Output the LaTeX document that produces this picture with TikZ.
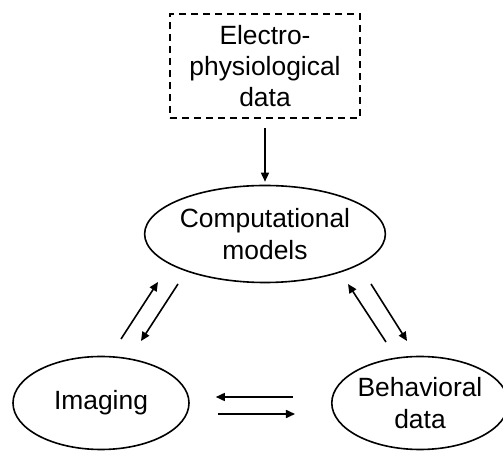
\documentclass[tikz,border=0pt]{standalone}
\usepackage{fontspec}
\setmainfont{Liberation Sans}
\usepackage{tikz}
\usetikzlibrary{shapes, positioning, calc, arrows.meta}

\begin{document}
\begin{tikzpicture}[x=0.5pt, y=-0.5pt,
    txt/.style={font=\fontsize{13.2}{15.7}\selectfont, align=center, inner sep=0pt},
    oval/.style={txt, ellipse, draw, line width=0.8pt},
    arr/.style={-{Triangle[length=4.5pt, width=4pt]}, line width=0.8pt}]
    \useasboundingbox (0,0) rectangle (503,453);

    % Data box
    \node[txt, draw, dash pattern=on 3.5pt off 2.5pt, line width=0.8pt,
          minimum width=95pt, minimum height=52pt] (elec) at (265,66)
          {Electro-\\physiological\\data};

    % Ellipses
    \node[oval, minimum width=102pt, minimum height=48.5pt] (comp) at (265,234) {Computational\\models};
    \node[oval, minimum width=88pt, minimum height=46.5pt] (img) at (101,403) {Imaging};
    \node[oval, minimum width=82pt, minimum height=46.5pt] (beh) at (420,403) {Behavioral\\data};

    % Arrows
    \draw[arr, shorten <=4.5pt, shorten >=1.5pt] (elec.south) -- (comp.north);
    \draw[arr] ($(img)+(20,-64)$) -- ($(comp)+(-107,48)$);
    \draw[arr] ($(comp)+(-87,50)$) -- ($(img)+(40,-62)$);
    \draw[arr] ($(beh)+(-34,-61)$) -- ($(comp)+(83,50)$);
    \draw[arr] ($(comp)+(106,50)$) -- ($(beh)+(-13,-62)$);
    \draw[arr, shorten <=19pt, shorten >=13pt] ([yshift=3pt]beh.west) -- ([yshift=3pt]img.east);
    \draw[arr, shorten <=14pt, shorten >=18pt] ([yshift=-5.5pt]img.east) -- ([yshift=-5.5pt]beh.west);
\end{tikzpicture}
\end{document}
